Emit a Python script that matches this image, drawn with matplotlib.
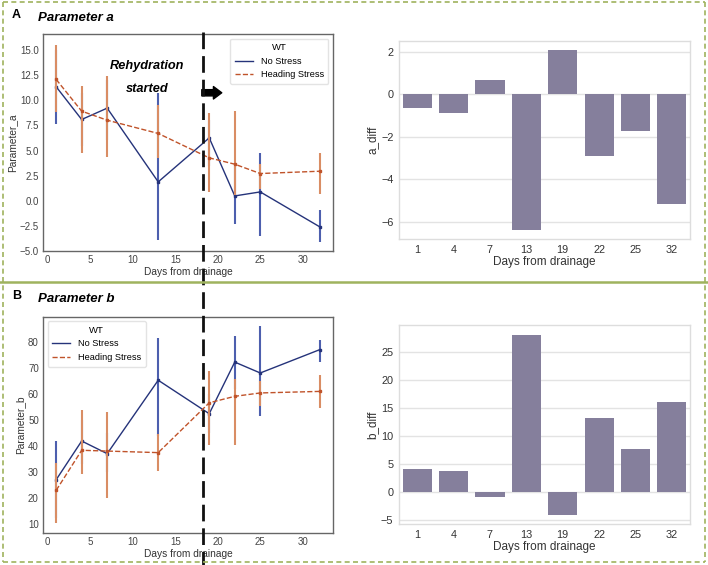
import matplotlib.pyplot as plt
import numpy as np
from matplotlib.lines import Line2D

plt.rcParams['font.family'] = ['Liberation Sans', 'DejaVu Sans']

days = [1, 4, 7, 13, 19, 22, 25, 32]

# Parameter a: mean with lower / upper error bounds
a_no = [11.35, 8.09, 9.22, 1.88, 6.26, 0.48, 0.88, -2.60]
a_no_lo = [7.69, 5.5, 6.0, -3.86, 3.5, -2.27, -3.50, -4.10]
a_no_hi = [15.0, 10.7, 12.0, 10.68, 8.0, 3.5, 4.77, -0.94]
a_hs = [12.08, 8.92, 8.02, 6.70, 4.27, 3.64, 2.71, 2.94]
a_hs_lo = [8.85, 4.71, 4.31, 4.21, 0.88, 0.55, 1.2, 0.72]
a_hs_hi = [15.5, 11.44, 12.41, 9.52, 8.69, 8.92, 3.7, 4.71]

# Parameter b
b_no = [27.05, 41.97, 37.1, 65.4, 52.5, 72.4, 68.2, 77.2]
b_no_lo = [12.3, 33.0, 30.0, 44.0, 45.0, 62.0, 51.5, 72.4]
b_no_hi = [41.8, 50.0, 45.0, 81.7, 60.0, 82.3, 86.2, 80.8]
b_hs = [22.96, 38.4, 38.1, 37.5, 56.7, 59.2, 60.5, 61.1]
b_hs_lo = [10.4, 29.1, 20.0, 30.4, 40.5, 40.3, 55.5, 54.8]
b_hs_hi = [33.6, 53.8, 53.1, 44.8, 68.9, 66.0, 65.0, 67.3]

# differences (No Stress - Heading Stress)
a_diff = [-0.66, -0.86, 0.68, -6.40, 2.08, -2.91, -1.71, -5.16]
b_diff = [4.05, 3.63, -0.89, 27.98, -4.17, 13.21, 7.62, 16.01]

blue = '#25337a'
blue_err = '#4d5fae'
orange = '#c0532a'
orange_err = '#d98d64'
bar_col = '#857f9c'
green = '#9fb35e'
rehyd_day = 18.3

fig = plt.figure(figsize=(7.08, 5.65), dpi=100)


def line_panel(ax, no, no_lo, no_hi, hs, hs_lo, hs_hi, ylabel, ylim, loc):
    d = np.array(days)
    for m, lo, hi, c, ce, ls, lab in [
            (no, no_lo, no_hi, blue, blue_err, '-', 'No Stress'),
            (hs, hs_lo, hs_hi, orange, orange_err, '--', 'Heading Stress')]:
        m = np.array(m)
        err = [m - np.array(lo), np.array(hi) - m]
        ax.errorbar(d, m, yerr=err, fmt='none', ecolor=ce, elinewidth=1.5)
        ax.plot(d, m, color=c, ls=ls, lw=1, label=lab)
        ax.plot(d, m, ls='none', marker='s', ms=2, color=c)
    ax.set_xlim(-0.55, 33.55)
    ax.set_ylim(*ylim)
    ax.set_xlabel('Days from drainage', fontsize=7.3, labelpad=1, color='#333333')
    ax.set_ylabel(ylabel, fontsize=7.3, labelpad=2, color='#333333')
    ax.tick_params(labelsize=7, length=0, pad=3, colors='#444444')
    for s in ax.spines.values():
        s.set_color('#666666')
        s.set_linewidth(1)
    leg = ax.legend(title='WT', loc=loc, fontsize=6.6, title_fontsize=6.8,
                    frameon=True, borderpad=0.5, handlelength=2.0)
    leg.get_frame().set_edgecolor('#dddddd')


def bar_panel(ax, vals, ylabel, ylim, yticks):
    x = np.arange(len(days))
    ax.set_axisbelow(True)
    ax.grid(axis='y', color='#e3e3e3', lw=1)
    ax.bar(x, vals, width=0.8, color=bar_col)
    ax.set_xticks(x)
    ax.set_xticklabels([str(d) for d in days])
    ax.set_xlim(-0.5, len(days) - 0.5)
    ax.set_ylim(*ylim)
    ax.set_yticks(yticks)
    ax.set_xlabel('Days from drainage', fontsize=8.5, labelpad=1, color='#333333')
    ax.set_ylabel(ylabel, fontsize=8.5, labelpad=2, color='#333333')
    ax.tick_params(labelsize=7.8, length=0, pad=4, colors='#333333')
    for s in ax.spines.values():
        s.set_color('#dddddd')
        s.set_linewidth(1)


ax1 = fig.add_axes([0.0607, 0.5558, 0.4096, 0.384])
line_panel(ax1, a_no, a_no_lo, a_no_hi, a_hs, a_hs_lo, a_hs_hi,
           'Parameter_a', (-5.0, 16.6), 'upper right')
ax1.set_yticks([-5.0, -2.5, 0.0, 2.5, 5.0, 7.5, 10.0, 12.5, 15.0])
ax1.text(11.7, 13.4, 'Rehydration', fontsize=9.2, fontweight='bold',
         fontstyle='italic', ha='center', va='center')
ax1.text(11.7, 11.1, 'started', fontsize=9.2, fontweight='bold',
         fontstyle='italic', ha='center', va='center')
ax1.annotate('', xy=(20.8, 10.75), xytext=(17.8, 10.75),
             arrowprops=dict(arrowstyle='simple,head_width=0.9,head_length=0.6,tail_width=0.45',
                             color='black'))

ax2 = fig.add_axes([0.5636, 0.577, 0.411, 0.351])
bar_panel(ax2, a_diff, 'a_diff', (-6.82, 2.53), [-6, -4, -2, 0, 2])

ax3 = fig.add_axes([0.0607, 0.0561, 0.4096, 0.3834])
line_panel(ax3, b_no, b_no_lo, b_no_hi, b_hs, b_hs_lo, b_hs_hi,
           'Parameter_b', (6.4, 89.9), 'upper left')

ax4 = fig.add_axes([0.5636, 0.072, 0.411, 0.3528])
bar_panel(ax4, b_diff, 'b_diff', (-5.83, 29.76), [-5, 0, 5, 10, 15, 20, 25])

# panel labels and titles
fig.text(12 / 708, 1 - 15 / 565, 'A', fontsize=9, fontweight='bold', va='center')
fig.text(38 / 708, 1 - 18 / 565, 'Parameter a', fontsize=9.5, fontweight='bold',
         fontstyle='italic', va='center')
fig.text(12 / 708, 1 - 296 / 565, 'B', fontsize=9, fontweight='bold', va='center')
fig.text(38 / 708, 1 - 299 / 565, 'Parameter b', fontsize=9.5, fontweight='bold',
         fontstyle='italic', va='center')

# rehydration line across both panels
xl = ax1.get_xlim()
pos = ax1.get_position()
xf = pos.x0 + (rehyd_day - xl[0]) / (xl[1] - xl[0]) * pos.width
fig.add_artist(Line2D([xf, xf], [1 - 32 / 565, 0.0], color='#111111', lw=2,
                      dashes=(6, 2.5), transform=fig.transFigure))

# green panel frames
for xs, ys in [([3 / 708, 705 / 708], [1 - 2 / 565] * 2),
               ([3 / 708, 705 / 708], [1 - 562 / 565] * 2),
               ([3 / 708] * 2, [1 - 2 / 565, 1 - 562 / 565]),
               ([705 / 708] * 2, [1 - 2 / 565, 1 - 562 / 565])]:
    fig.add_artist(Line2D(xs, ys, color=green, lw=1.2, dashes=(3, 2),
                          transform=fig.transFigure))
fig.add_artist(Line2D([0, 1], [1 - 282 / 565] * 2, color=green, lw=1.8,
                      transform=fig.transFigure))

fig.savefig('out.png', dpi=100)
